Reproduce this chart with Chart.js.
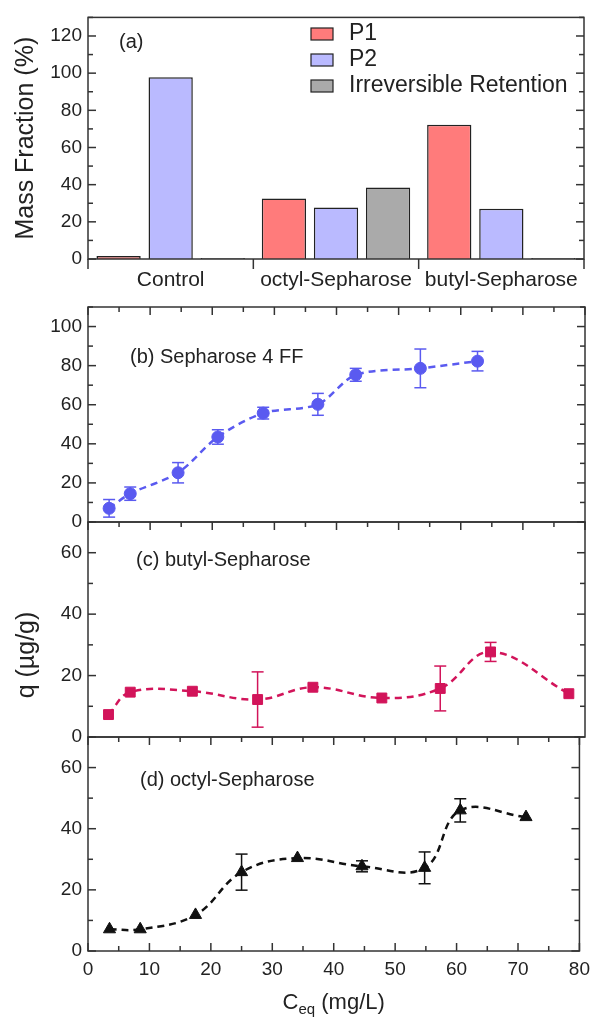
<!DOCTYPE html>
<html lang="en">
<head>
    <meta charset="UTF-8">
    <title>Mass fraction and adsorption isotherms</title>
    <style>
        body {
            margin: 0;
            padding: 0;
            background: #fff;
        }
        .page {
            position: relative;
            width: 597px;
            height: 1017px;
        }
        .page canvas {
            position: absolute;
            left: 0;
            top: 0;
        }
    </style>
</head>
<body>
    <div class="page">
        <canvas id="chartA" width="597" height="1017"></canvas>
        <canvas id="chartB" width="597" height="1017"></canvas>
        <canvas id="chartC" width="597" height="1017"></canvas>
        <canvas id="chartD" width="597" height="1017"></canvas>
    </div>
    <script src="https://cdn.jsdelivr.net/npm/chart.js"></script>
    <script>
// (a) mass fraction per resin
const groups = ['Control', 'octyl-Sepharose', 'butyl-Sepharose'];
const p1 = [1.6, 32.6, 72.2];
const p2 = [97.8, 27.7, 27.1];
const irreversible = [0.5, 38.5, 0.5];

// (b) Sepharose 4 FF
const sephX = [3.4, 6.8, 14.5, 20.9, 28.2, 37.0, 43.1, 53.5, 62.7];
const sephQ = [7.0, 14.5, 25.2, 43.5, 55.7, 60.2, 75.3, 78.6, 82.3];
const sephErr = [4.5, 3.4, 5.2, 3.7, 3.0, 5.6, 3.3, 9.9, 5.0];

// (c) butyl-Sepharose
const butylX = [3.3, 6.8, 16.8, 27.3, 36.2, 47.3, 56.7, 64.8, 77.4];
const butylQ = [7.3, 14.6, 14.9, 12.2, 16.2, 12.7, 15.8, 27.7, 14.1];
const butylErr = [0, 0, 0, 9.0, 0, 0, 7.3, 3.1, 0];

// (d) octyl-Sepharose
const octylX = [3.5, 8.5, 17.5, 25.0, 34.1, 44.6, 54.8, 60.6, 71.3];
const octylQ = [7.1, 7.1, 11.8, 25.8, 30.4, 27.7, 27.2, 46.0, 43.8];
const octylErr = [0, 0, 0, 5.9, 0, 1.8, 5.2, 3.8, 0];

const FONT = "'Liberation Sans', Arial, sans-serif";
const INK = '#222';
Chart.defaults.font.family = FONT;
Chart.defaults.color = INK;

function tickLine(ctx, x1, y1, x2, y2) {
    ctx.beginPath();
    ctx.moveTo(x1, y1);
    ctx.lineTo(x2, y2);
    ctx.stroke();
}

// box around the plot, inward ticks, panel labels
const frame = {
    id: 'frame',
    afterDraw(chart, args, opts) {
        const ctx = chart.ctx;
        const a = chart.chartArea;
        const y = chart.scales.y;
        const x = chart.scales.x;
        ctx.save();
        ctx.strokeStyle = '#333';
        ctx.lineWidth = 1.5;
        ctx.strokeRect(a.left, a.top, a.right - a.left, a.bottom - a.top);

        for (let v = 0; v <= y.max; v += 10) {
            const py = y.getPixelForValue(v);
            const len = v % 20 === 0 ? 8 : 5;
            tickLine(ctx, a.left, py, a.left + len, py);
            tickLine(ctx, a.right, py, a.right - len, py);
        }

        if (opts.xTicks) {
            for (let v = 0; v <= 80; v += 5) {
                const px = x.getPixelForValue(v);
                const len = v % 10 === 0 ? 8 : 5;
                tickLine(ctx, px, a.top, px, a.top + len);
                if (opts.bottomTicks) tickLine(ctx, px, a.bottom, px, a.bottom - len);
            }
        }

        if (opts.groupTicks) {
            const step = (a.right - a.left) / chart.data.labels.length;
            for (let i = 0; i <= chart.data.labels.length; i++) {
                const px = a.left + i * step;
                tickLine(ctx, px, a.bottom, px, a.bottom + 10);
            }
        }

        ctx.fillStyle = INK;
        ctx.textBaseline = 'middle';
        ctx.textAlign = 'left';
        if (opts.label) {
            ctx.font = '20px ' + FONT;
            ctx.fillText(opts.label, opts.labelX, opts.labelY);
        }

        if (opts.legend) {
            ctx.font = '23px ' + FONT;
            chart.data.datasets.forEach((ds, i) => {
                const cy = 34 + i * 26;
                ctx.fillStyle = ds.backgroundColor;
                ctx.fillRect(311, cy - 6, 22, 12);
                ctx.strokeStyle = '#222';
                ctx.lineWidth = 1.2;
                ctx.strokeRect(311, cy - 6, 22, 12);
                ctx.fillStyle = INK;
                ctx.fillText(ds.label, 349, cy);
            });
        }

        if (opts.sideTitle) {
            ctx.save();
            ctx.translate(27, 655);
            ctx.rotate(-Math.PI / 2);
            ctx.textAlign = 'center';
            ctx.font = '25px ' + FONT;
            ctx.fillText(opts.sideTitle, 0, 0);
            ctx.restore();
        }

        if (opts.xTitle) {
            // C with subscript eq
            const big = '22px ' + FONT;
            const small = '15px ' + FONT;
            ctx.font = big;
            const wC = ctx.measureText('C').width;
            const wRest = ctx.measureText(' (mg/L)').width;
            ctx.font = small;
            const wSub = ctx.measureText('eq').width;
            let px = (a.left + a.right) / 2 - (wC + wSub + wRest) / 2;
            const py = 1003;
            ctx.font = big;
            ctx.fillText('C', px, py);
            px += wC;
            ctx.font = small;
            ctx.fillText('eq', px, py + 7);
            px += wSub;
            ctx.font = big;
            ctx.fillText(' (mg/L)', px, py);
        }
        ctx.restore();
    }
};

// vertical error bars with caps
const errorBars = {
    id: 'errorBars',
    beforeDatasetsDraw(chart, args, opts) {
        if (!opts.err) return;
        const ctx = chart.ctx;
        const y = chart.scales.y;
        const pts = chart.getDatasetMeta(0).data;
        const data = chart.data.datasets[0].data;
        ctx.save();
        ctx.strokeStyle = opts.color;
        ctx.lineWidth = 1.5;
        pts.forEach((pt, i) => {
            const e = opts.err[i];
            if (!e) return;
            const top = y.getPixelForValue(data[i].y + e);
            const bot = y.getPixelForValue(data[i].y - e);
            tickLine(ctx, pt.x, top, pt.x, bot);
            tickLine(ctx, pt.x - 6, top, pt.x + 6, top);
            tickLine(ctx, pt.x - 6, bot, pt.x + 6, bot);
        });
        ctx.restore();
    }
};

function yTicks(v) {
    return v % 20 === 0 ? v : '';
}

// (a)
new Chart(document.getElementById('chartA'), {
    type: 'bar',
    data: {
        labels: groups,
        datasets: [
            { label: 'P1', data: p1, backgroundColor: '#ff7b7b' },
            { label: 'P2', data: p2, backgroundColor: '#babaff' },
            { label: 'Irreversible Retention', data: irreversible, backgroundColor: '#aaaaaa' }
        ]
    },
    options: {
        responsive: false,
        animation: false,
        layout: { padding: { top: 14, right: 13, bottom: 717, left: 0 } },
        datasets: {
            bar: { borderColor: '#222', borderWidth: 1.5, barPercentage: 0.85, categoryPercentage: 0.945 }
        },
        scales: {
            x: {
                grid: { display: false, drawTicks: false },
                border: { display: false },
                ticks: { padding: 9, font: { size: 21 } },
                afterFit: s => { s.height = 41; }
            },
            y: {
                min: 0,
                max: 130,
                grid: { display: false, drawTicks: false },
                border: { display: false },
                ticks: { stepSize: 10, autoSkip: false, padding: 6, font: { size: 19 }, callback: yTicks },
                title: { display: true, text: 'Mass Fraction (%)', font: { size: 25 }, padding: { top: 11 } },
                afterFit: s => { s.width = 88; }
            }
        },
        plugins: {
            legend: { display: false },
            tooltip: { enabled: false },
            frame: { groupTicks: true, legend: true, label: '(a)', labelX: 119, labelY: 42 }
        }
    },
    plugins: [frame]
});

function isothermPanel(id, xs, ys, errs, opts) {
    return new Chart(document.getElementById(id), {
        type: 'line',
        data: {
            datasets: [{
                data: xs.map((x, i) => ({ x: x, y: ys[i] })),
                borderColor: opts.color,
                backgroundColor: opts.color,
                borderWidth: 2.5,
                borderDash: [7, 5],
                tension: opts.tension,
                pointStyle: opts.marker,
                pointRadius: opts.radius,
                pointBorderWidth: 1
            }]
        },
        options: {
            responsive: false,
            animation: false,
            layout: { padding: { top: opts.top, right: 12, bottom: opts.bottom, left: 0 } },
            scales: {
                x: {
                    type: 'linear',
                    min: 0,
                    max: 80,
                    display: opts.showX,
                    grid: { display: false, drawTicks: false },
                    border: { display: false },
                    ticks: { stepSize: 10, padding: 7, font: { size: 19 } },
                    afterFit: s => { s.height = opts.showX ? 66 : 0; }
                },
                y: {
                    min: 0,
                    max: opts.yMax,
                    grid: { display: false, drawTicks: false },
                    border: { display: false },
                    ticks: { stepSize: 10, autoSkip: false, padding: 6, font: { size: 19 }, callback: yTicks },
                    afterFit: s => { s.width = 88; }
                }
            },
            plugins: {
                legend: { display: false },
                tooltip: { enabled: false },
                errorBars: { err: errs, color: opts.color },
                frame: {
                    xTicks: true,
                    bottomTicks: opts.showX,
                    label: opts.label,
                    labelX: opts.labelX,
                    labelY: opts.labelY,
                    sideTitle: opts.sideTitle,
                    xTitle: opts.showX
                }
            }
        },
        plugins: [errorBars, frame]
    });
}

// (b) top 307, bottom 522
isothermPanel('chartB', sephX, sephQ, sephErr, {
    color: '#5a5af0', marker: 'circle', radius: 6, tension: 0.3, yMax: 110,
    top: 307, bottom: 495, showX: false,
    label: '(b) Sepharose 4 FF', labelX: 130, labelY: 357
});

// (c) top 522, bottom 737
isothermPanel('chartC', butylX, butylQ, butylErr, {
    color: '#d2145a', marker: 'rect', radius: 7, tension: 0.4, yMax: 70,
    top: 522, bottom: 280, showX: false,
    label: '(c) butyl-Sepharose', labelX: 136, labelY: 560,
    sideTitle: 'q (\u00b5g/g)'
});

// (d) top 737, bottom 951
isothermPanel('chartD', octylX, octylQ, octylErr, {
    color: '#111', marker: 'triangle', radius: 7, tension: 0.4, yMax: 70,
    top: 737, bottom: 0, showX: true,
    label: '(d) octyl-Sepharose', labelX: 140, labelY: 780
});
    </script>
</body>
</html>
